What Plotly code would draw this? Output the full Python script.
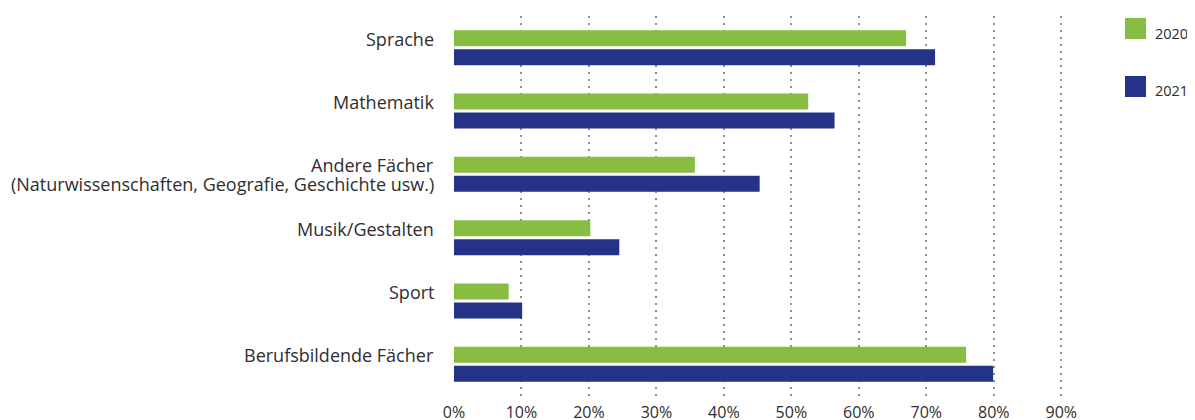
import plotly.graph_objects as go

categories = ["Sprache", "Mathematik",
              "Andere Fächer<br>(Naturwissenschaften, Geografie, Geschichte usw.)",
              "Musik/Gestalten", "Sport", "Berufsbildende Fächer"]
series_names = ["2020", "2021"]
values_2020 = [67, 52.5, 35.7, 20.2, 8.1, 75.9]
values_2021 = [71.3, 56.4, 45.3, 24.5, 10.1, 79.9]
tick_values = [0, 10, 20, 30, 40, 50, 60, 70, 80, 90]
tick_labels = ["0%", "10%", "20%", "30%", "40%", "50%", "60%", "70%", "80%", "90%"]

GREEN = "#87BE41"
BLUE = "#243287"
TEXT = "#2e2e2e"
FONT = "Open Sans"

# page body adds an 8px offset; layout below is expressed in figure pixels
OFF = 8
W, H = 1195, 420
L, T = 454 - OFF, 16 - OFF
R = W - (1068 - OFF)
B = H - (396 - OFF)
PW, PH = W - L - R, H - T - B

def px_x(px):
    # screen x -> paper
    return (px - OFF - L) / PW

def px_y(py):
    # screen y -> paper
    return (H - B - (py - OFF)) / PH

fig = go.Figure()
for name, vals, col in [(series_names[0], values_2020, GREEN), (series_names[1], values_2021, BLUE)]:
    fig.add_trace(go.Bar(
        y=list(range(len(categories))), x=vals, name=name, orientation="h",
        marker=dict(color=col, line=dict(width=0)), showlegend=False,
        hoverinfo="x+name",
    ))

fig.update_layout(
    width=W, height=H,
    margin=dict(l=L, r=R, t=T, b=B, pad=0, autoexpand=False),
    paper_bgcolor="white", plot_bgcolor="white",
    barmode="group", bargap=0.40, bargroupgap=0.158,
    font=dict(family=FONT, color=TEXT, size=18),
    xaxis=dict(
        range=[0, 91], tickvals=tick_values, ticktext=tick_labels,
        showgrid=True, gridcolor="#8f8f8f", gridwidth=1.5, griddash="2px,5px",
        zeroline=False, showline=False, ticks="", ticklabelstandoff=5,
        automargin=False,
        tickfont=dict(family=FONT, size=16, color=TEXT),
    ),
    yaxis=dict(
        range=[5.5, -0.5], showticklabels=False, showgrid=False,
        zeroline=False, showline=False, ticks="", automargin=False,
    ),
)

# category labels (top aligned with the green bar)
for i, cat in enumerate(categories):
    lines = cat.split("<br>")
    for j, line in enumerate(lines):
        fig.add_annotation(
            x=0, xref="paper", xanchor="right", xshift=-18,
            y=i, yref="y", yanchor="top", yshift=23 - 19 * j,
            text=line, showarrow=False,
            font=dict(family=FONT, size=18, color=TEXT),
        )

# legend
legend_items = [(series_names[0], GREEN, 18), (series_names[1], BLUE, 76)]
for name, col, top in legend_items:
    fig.add_shape(type="rect", xref="paper", yref="paper",
                  x0=px_x(1125), x1=px_x(1146), y0=px_y(top + 21), y1=px_y(top),
                  fillcolor=col, line=dict(width=0))
    fig.add_annotation(x=px_x(1153), xref="paper", xanchor="left",
                       y=px_y(top + 15), yref="paper", yanchor="middle",
                       text=name, showarrow=False,
                       font=dict(family=FONT, size=14.5, color=TEXT))

fig.write_html("out.html")
